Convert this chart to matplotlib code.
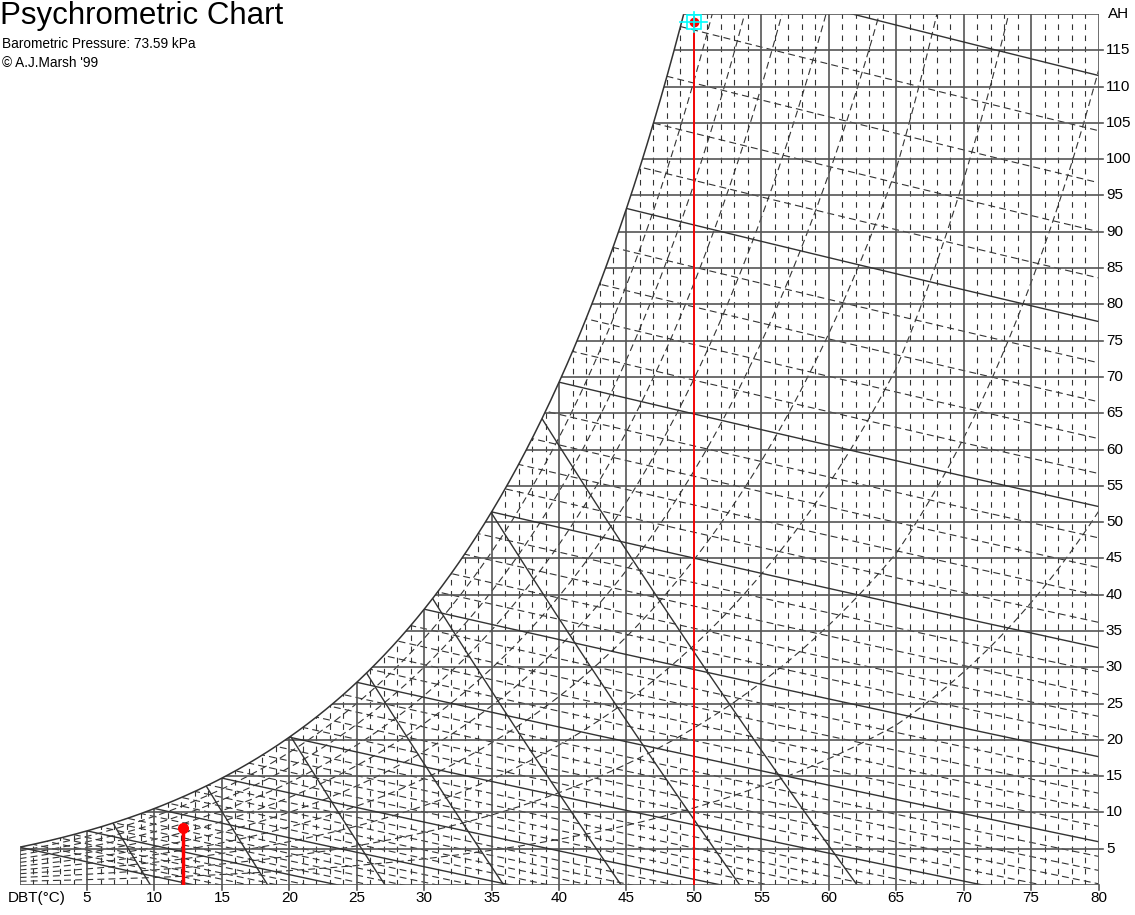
import numpy as np
import matplotlib
matplotlib.use("Agg")
import matplotlib.pyplot as plt
from matplotlib.patches import Polygon

plt.rcParams['lines.scale_dashes'] = False
plt.rcParams['font.family'] = ['Liberation Sans', 'DejaVu Sans']

# ---------------- data ----------------
pressure_kpa = 73.59
dbt_ticks = [5, 10, 15, 20, 25, 30, 35, 40, 45, 50, 55, 60, 65, 70, 75, 80]
ah_ticks = [5, 10, 15, 20, 25, 30, 35, 40, 45, 50, 55, 60, 65, 70, 75, 80,
            85, 90, 95, 100, 105, 110, 115]
rh_levels = [10, 20, 30, 40, 50, 60, 70, 80, 90]
enthalpy_sat_temps = [0, 5, 10, 15, 20, 25, 30, 35, 40, 45, 50]
enthalpy_minor_temps = list(range(0, 51))
steep_end_temps = [9.7, 18.4, 27.1, 35.9, 44.6, 53.4, 62.1]   # DBT where steep lines meet AH = 0
point_a = (50.0, 118.9)
point_b = (12.1, 7.85)

X_MAX, Y_MAX = 80, 120

def pws(t):
    return 0.61094 * np.exp(17.625 * t / (t + 243.04))

def pws_chart(t):
    # saturation pressure as used by the original chart for its RH curves
    return pws(t) * np.exp(0.0105 * np.clip(t - 65.0, 0, None))

def wsat(t):
    p = pws(t)
    return 622.0 * p / (pressure_kpa - p)

def w_from_pv(pv):
    return 622.0 * pv / (pressure_kpa - pv)

def h_of(t, w):
    return 1.006 * t + w / 1000.0 * (2501 + 1.86 * t)

# temperature where saturation reaches top of chart
tt = np.linspace(0, 60, 60001)
t_top = tt[np.argmin(np.abs(wsat(tt) - Y_MAX))]

fig = plt.figure(figsize=(11.35, 9.15), dpi=100)
ax = fig.add_axes([19.6 / 1135, 30 / 915, (1098.5 - 19.6) / 1135, (885 - 14) / 915])
ax.set_xlim(0, X_MAX)
ax.set_ylim(0, Y_MAX)
ax.axis('off')

ts = np.linspace(0, t_top, 400)
clip_pts = [(0, 0), (X_MAX, 0), (X_MAX, Y_MAX), (t_top, Y_MAX)] + \
    [(t, wsat(t)) for t in ts[::-1]]
clip = Polygon(clip_pts, closed=True, transform=ax.transData, fill=False, lw=0)
ax.add_patch(clip)

LC = '#333333'
GC = '#555555'
DASH = (0, (4, 4))
LW = 0.8

def add(line):
    for l in line:
        l.set_clip_path(clip)

# dashed verticals each degree
for t in range(1, X_MAX):
    if t % 5:
        add(ax.plot([t, t], [0, Y_MAX], color=LC, lw=LW, ls=DASH))

# relative humidity curves
tt2 = np.linspace(0, X_MAX, 800)
for rh in rh_levels:
    w = w_from_pv(rh / 100.0 * pws_chart(tt2))
    add(ax.plot(tt2, w, color=LC, lw=LW, ls=(0, (5, 3))))

# minor enthalpy lines
tt3 = np.linspace(0, X_MAX, 400)
for t0 in enthalpy_minor_temps:
    if t0 % 5 == 0:
        continue
    h = h_of(t0, wsat(t0))
    w = (h - 1.006 * tt3) / (2501 + 1.86 * tt3) * 1000
    add(ax.plot(tt3, w, color=LC, lw=LW, ls=(0, (5, 3))))

# solid grid
for t in range(5, X_MAX, 5):
    add(ax.plot([t, t], [0, Y_MAX], color=GC, lw=1.2))
for a in range(5, Y_MAX, 5):
    add(ax.plot([0, X_MAX], [a, a], color=GC, lw=1.2))

# major enthalpy lines
for t0 in enthalpy_sat_temps:
    h = h_of(t0, wsat(t0))
    w = (h - 1.006 * tt3) / (2501 + 1.86 * tt3) * 1000
    add(ax.plot(tt3, w, color=LC, lw=1.0))

# steep solid (volume-like) lines
for te in steep_end_temps:
    tk = np.linspace(0, te, 300)
    w = ((te + 273.15) / (tk + 273.15) - 1.0) / 1.166 * 1000
    add(ax.plot(tk, w, color=LC, lw=1.0))

# boundary
ax.plot(ts, wsat(ts), color=LC, lw=1.1)
ax.plot([t_top, X_MAX, X_MAX, 0, 0], [Y_MAX, Y_MAX, 0, 0, wsat(0)], color=GC, lw=1.2)

# tick stubs
for t in dbt_ticks:
    ax.plot([t, t], [0, -0.7], color=GC, lw=1.2, clip_on=False)
for a in ah_ticks:
    ax.plot([X_MAX, X_MAX + 0.35], [a, a], color=GC, lw=1.2, clip_on=False)

# labels
FS = 11
for t in dbt_ticks:
    ax.text(t, -1.75, str(t), ha='center', va='center', fontsize=FS)
ax.text(-0.86, -1.75, 'DBT(°C)', ha='left', va='center', fontsize=FS)
for a in ah_ticks:
    ax.text(X_MAX + 0.55, a, str(a), ha='left', va='center', fontsize=FS)
ax.text(X_MAX + 0.7, Y_MAX, 'AH', ha='left', va='center', fontsize=FS)

fig.text(0 / 1135, 1 - 1 / 915, 'Psychrometric Chart', ha='left', va='top', fontsize=22.5)
fig.text(2 / 1135, 1 - 44 / 915, 'Barometric Pressure: 73.59 kPa', ha='left', va='center', fontsize=9.8)
fig.text(2 / 1135, 1 - 63 / 915, '© A.J.Marsh \'99', ha='left', va='center', fontsize=9.8)

# red markers
ax.plot([point_a[0], point_a[0]], [0, point_a[1]], color='red', lw=1.3)
ax.plot(point_a[0], point_a[1], 'o', color='red', ms=6)
ax.plot([point_b[0], point_b[0]], [0, point_b[1]], color='red', lw=2.5)
ax.plot(point_b[0], point_b[1], 'o', color='red', ms=7)
# cyan crosshair
ax.plot([point_a[0] - 1.0, point_a[0] + 1.0], [point_a[1], point_a[1]], color='cyan', lw=1.2)
ax.plot([point_a[0], point_a[0]], [point_a[1] - 1.4, point_a[1] + 1.4], color='cyan', lw=1.2, clip_on=False)
ax.plot(point_a[0], point_a[1], 's', mfc='none', mec='cyan', ms=10, mew=1.2)

fig.savefig('out.png', dpi=100)
